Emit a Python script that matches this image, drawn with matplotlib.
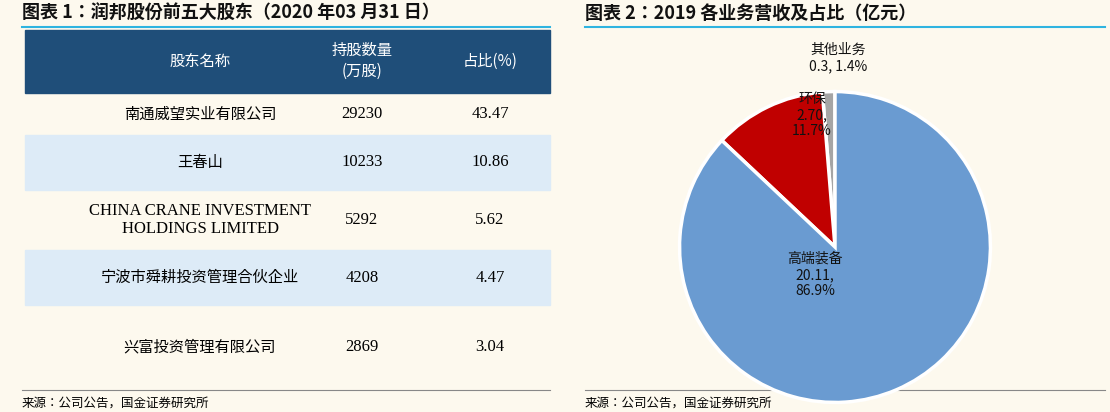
import matplotlib
matplotlib.use("Agg")
import matplotlib.pyplot as plt
from matplotlib.patches import Rectangle

CJK = ["Noto Sans CJK SC", "Noto Sans CJK JP", "Noto Sans CJK TC", "Noto Sans CJK KR", "DejaVu Sans"]
plt.rcParams["font.family"] = CJK

holders = ["南通威望实业有限公司", "王春山", "CHINA CRANE INVESTMENT\nHOLDINGS LIMITED",
           "宁波市舜耕投资管理合伙企业", "兴富投资管理有限公司"]
shares = ["29230", "10233", "5292", "4208", "2869"]
pcts = ["43.47", "10.86", "5.62", "4.47", "3.04"]
headers = ["股东名称", "持股数量\n(万股)", "占比(%)"]

seg_names = ["其他业务", "环保", "高端装备"]
seg_values = [0.3, 2.70, 20.11]
seg_labels = ["其他业务\n0.3, 1.4%", "环保\n2.70,\n11.7%", "高端装备\n20.11,\n86.9%"]
seg_colors = ["#A5A5A5", "#C00000", "#6A9BD1"]

W, H = 1110, 412
fig = plt.figure(figsize=(W/100, H/100), dpi=100, facecolor="#FDF9EE")
bg = fig.add_axes([0, 0, 1, 1]); bg.set_xlim(0, W); bg.set_ylim(H, 0); bg.axis("off")

def ft(x, y, s, **kw):
    fig.text(x / W, 1 - y / H, s, **kw)

ft(22, 13, "图表 1：润邦股份前五大股东（2020 年03 月31 日）", fontsize=13, fontweight="bold",
   style="italic", va="center", color="#111")
ft(585, 13, "图表 2：2019 各业务营收及占比（亿元）", fontsize=13, fontweight="bold",
   style="italic", va="center", color="#111")
for x0, x1 in [(22, 550), (585, 1105)]:
    bg.plot([x0, x1], [27, 27], color="#2FB4E0", lw=1.5)
    bg.plot([x0, x1], [390, 390], color="#888", lw=0.8)
ft(22, 403, "来源：公司公告，国金证券研究所", fontsize=9, va="center")
ft(585, 403, "来源：公司公告，国金证券研究所", fontsize=9, va="center")

bg.add_patch(Rectangle((25, 30), 525, 63, color="#1F4E79"))
cx = [200, 362, 490]
for x, h in zip(cx, headers):
    ft(x, 61, h, color="white", fontsize=11, ha="center", va="center", linespacing=1.3)
rows = [(93, 135), (135, 190), (190, 250), (250, 305), (305, 385)]
for i, (y0, y1) in enumerate(rows):
    if i % 2 == 1:
        bg.add_patch(Rectangle((25, y0), 525, y1 - y0, color="#DDEBF7"))
    yc = (y0 + y1) / 2
    if i == 4:
        yc = 347
    if i == 2:
        ft(cx[0], yc, holders[i], fontsize=12, ha="center", va="center", linespacing=1.1,
           family="Liberation Serif")
    else:
        ft(cx[0], yc, holders[i], fontsize=11, ha="center", va="center")
    ft(cx[1], yc, shares[i], fontsize=12, ha="center", va="center", family="Liberation Serif")
    ft(cx[2], yc, pcts[i], fontsize=12, ha="center", va="center", family="Liberation Serif")

R = 157
ax = fig.add_axes([(835-R)/W, 1-(247+R)/H, 2*R/W, 2*R/H])
ax.pie(seg_values, colors=seg_colors, startangle=90, counterclock=True,
       wedgeprops=dict(edgecolor="white", linewidth=2.5))
ax.set_xlim(-1.01, 1.01); ax.set_ylim(-1.01, 1.01)
ax.set_aspect("equal"); ax.axis("off")
pos = [(838, 58), (812, 115), (815, 275)]
for (x, y), lab in zip(pos, seg_labels):
    ft(x, y, lab, fontsize=10, ha="center", va="center", color="#111", linespacing=1.2)

fig.savefig("out.png", dpi=100, facecolor=fig.get_facecolor())
